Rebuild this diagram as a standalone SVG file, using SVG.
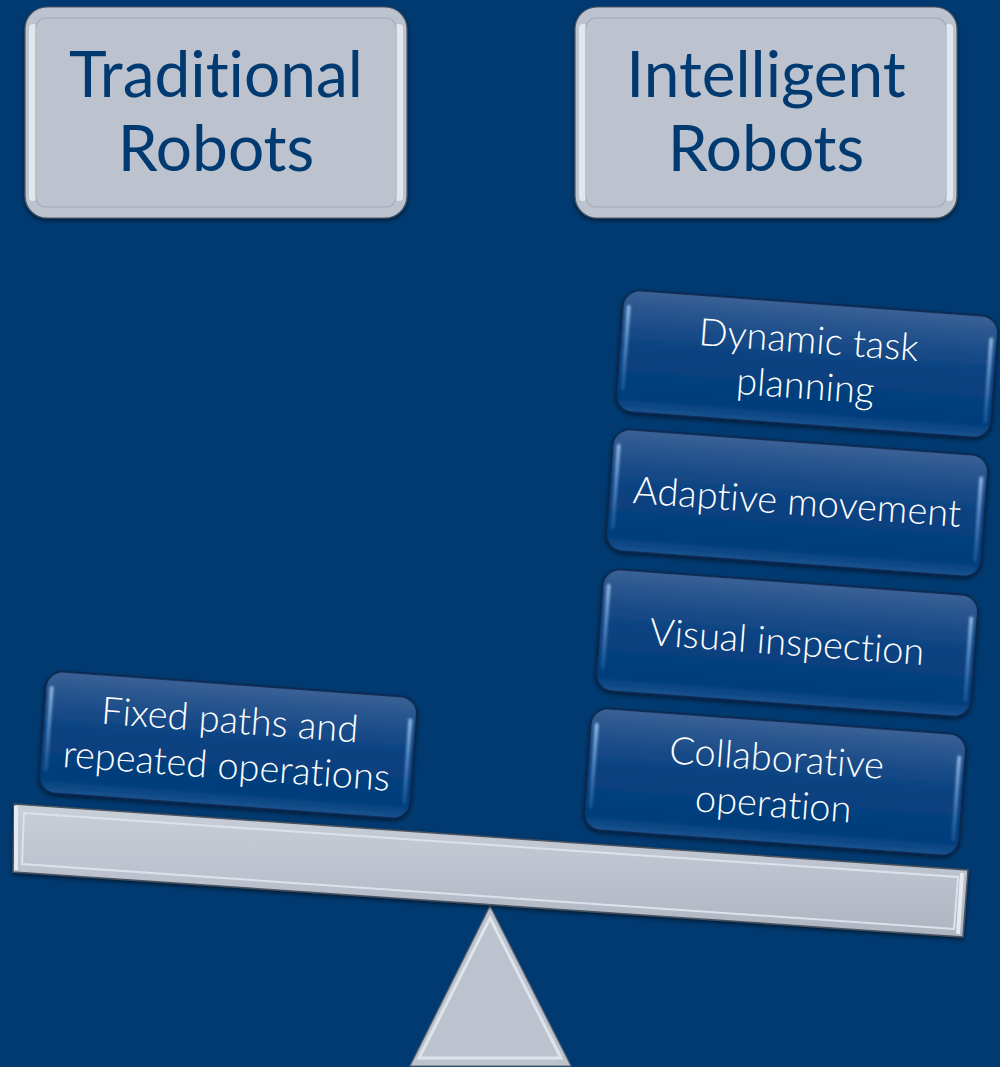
<svg xmlns="http://www.w3.org/2000/svg" width="1000" height="1067" viewBox="0 0 1000 1067">
<defs>
<style>
.hd{font-family:Lato,"Liberation Sans",sans-serif;font-size:64px;fill:#003a70;text-anchor:middle;font-variant-ligatures:none;font-feature-settings:"liga" 0,"clig" 0}
.bt{font-family:Lato,"Liberation Sans",sans-serif;font-weight:300;font-size:38px;fill:#ffffff;text-anchor:middle;font-variant-ligatures:none;font-feature-settings:"liga" 0,"clig" 0}
.bbox{fill:url(#blueGrad);stroke:#0b2547;stroke-width:1.5}
.bhl{fill:url(#hlGrad)}
.gbox{fill:#bcc3ce;stroke:#4f5866;stroke-width:1.2}
.gin{fill:none;stroke:#a3aab6;stroke-width:1.2}
.glt{fill:#e2e6ed}
</style>
<linearGradient id="blueGrad" x1="0" y1="0" x2="0" y2="1">
<stop offset="0" stop-color="#3b6296"/>
<stop offset="0.12" stop-color="#2c5890"/>
<stop offset="0.45" stop-color="#0c4382"/>
<stop offset="0.88" stop-color="#013d7b"/>
<stop offset="1" stop-color="#1a5390"/>
</linearGradient>
<linearGradient id="hlGrad" x1="0" y1="0" x2="0" y2="1">
<stop offset="0" stop-color="#a9cdf5" stop-opacity="0.8"/>
<stop offset="0.5" stop-color="#6f9fd8" stop-opacity="0.65"/>
<stop offset="1" stop-color="#4a7fc0" stop-opacity="0.3"/>
</linearGradient>
<linearGradient id="beamGrad" x1="0" y1="0" x2="0" y2="1">
<stop offset="0" stop-color="#c9cfd8"/>
<stop offset="0.5" stop-color="#bcc3ce"/>
<stop offset="1" stop-color="#aeb5c1"/>
</linearGradient>
<filter id="sh" x="-10%" y="-20%" width="120%" height="140%">
<feDropShadow dx="0" dy="2" stdDeviation="2" flood-color="#000000" flood-opacity="0.55"/>
</filter>
<filter id="soft" x="-50%" y="-10%" width="200%" height="120%">
<feGaussianBlur stdDeviation="0.8"/>
</filter>
</defs>
<rect x="0" y="0" width="1000" height="1067" fill="#013a70"/>

<g id="heading-traditional">
<rect class="gbox" x="25" y="7" width="382" height="211" rx="22" filter="url(#sh)"/>
<rect class="glt" x="29" y="24" width="8" height="177" rx="4"/>
<rect class="glt" x="395" y="24" width="8" height="177" rx="4"/>
<rect class="gin" x="36" y="18" width="360" height="189" rx="10"/>
<text class="hd" x="216" y="97">Traditional</text>
<text class="hd" x="216" y="171">Robots</text>
</g>

<g id="heading-intelligent">
<rect class="gbox" x="575" y="7" width="382" height="211" rx="22" filter="url(#sh)"/>
<rect class="glt" x="579" y="24" width="8" height="177" rx="4"/>
<rect class="glt" x="945" y="24" width="8" height="177" rx="4"/>
<rect class="gin" x="586" y="18" width="360" height="189" rx="10"/>
<text class="hd" x="766" y="97">Intelligent</text>
<text class="hd" x="766" y="171">Robots</text>
</g>

<g id="fulcrum">
<polygon points="490,906 571,1066 410,1066" fill="#bcc3ce" stroke="#5c6470" stroke-width="1.2"/>
<polygon points="490,918 561,1058 419,1058" fill="none" stroke="#dfe4eb" stroke-width="3"/>
<polygon points="490,930 553,1052 427,1052" fill="#bcc3ce"/>
</g>

<g id="beam">
<polygon points="14,804 968,870 963,937 13,872" fill="url(#beamGrad)" stroke="#4a525e" stroke-width="1.5" filter="url(#sh)"/>
<polygon points="24,813 958,877 954,929 22,864" fill="none" stroke="#dde2ea" stroke-width="2"/>
<line x1="16" y1="806" x2="16" y2="870" stroke="#e6eaf0" stroke-width="4"/>
<line x1="962" y1="873" x2="958" y2="934" stroke="#e6eaf0" stroke-width="4"/>
</g>

<g id="box-fixed" transform="translate(228,745) rotate(4.2)">
<rect class="bbox" x="-186" y="-61" width="372" height="122" rx="17" filter="url(#sh)"/>
<rect class="bhl" x="-182" y="-46" width="4" height="86" rx="2" filter="url(#soft)"/>
<rect class="bhl" x="178" y="-40" width="4" height="86" rx="2" filter="url(#soft)"/>
<text class="bt" x="0" y="-12">Fixed paths and</text>
<text class="bt" x="0" y="34">repeated operations</text>
</g>

<g id="box-dynamic" transform="translate(807,364) rotate(4.2)">
<rect class="bbox" x="-188" y="-61" width="376" height="122" rx="17" filter="url(#sh)"/>
<rect class="bhl" x="-184" y="-46" width="4" height="86" rx="2" filter="url(#soft)"/>
<rect class="bhl" x="180" y="-40" width="4" height="86" rx="2" filter="url(#soft)"/>
<text class="bt" x="0" y="-11">Dynamic task</text>
<text class="bt" x="0" y="35">planning</text>
</g>

<g id="box-adaptive" transform="translate(797,503) rotate(4.2)">
<rect class="bbox" x="-188" y="-61" width="376" height="122" rx="17" filter="url(#sh)"/>
<rect class="bhl" x="-184" y="-46" width="4" height="86" rx="2" filter="url(#soft)"/>
<rect class="bhl" x="180" y="-40" width="4" height="86" rx="2" filter="url(#soft)"/>
<text class="bt" x="0" y="12">Adaptive movement</text>
</g>

<g id="box-visual" transform="translate(787,643) rotate(4.2)">
<rect class="bbox" x="-188" y="-61" width="376" height="122" rx="17" filter="url(#sh)"/>
<rect class="bhl" x="-184" y="-46" width="4" height="86" rx="2" filter="url(#soft)"/>
<rect class="bhl" x="180" y="-40" width="4" height="86" rx="2" filter="url(#soft)"/>
<text class="bt" x="0" y="12">Visual inspection</text>
</g>

<g id="box-collaborative" transform="translate(775,782) rotate(4.2)">
<rect class="bbox" x="-188" y="-61" width="376" height="122" rx="17" filter="url(#sh)"/>
<rect class="bhl" x="-184" y="-46" width="4" height="86" rx="2" filter="url(#soft)"/>
<rect class="bhl" x="180" y="-40" width="4" height="86" rx="2" filter="url(#soft)"/>
<text class="bt" x="0" y="-11">Collaborative</text>
<text class="bt" x="0" y="35">operation</text>
</g>

<g id="connectors"></g>
</svg>
